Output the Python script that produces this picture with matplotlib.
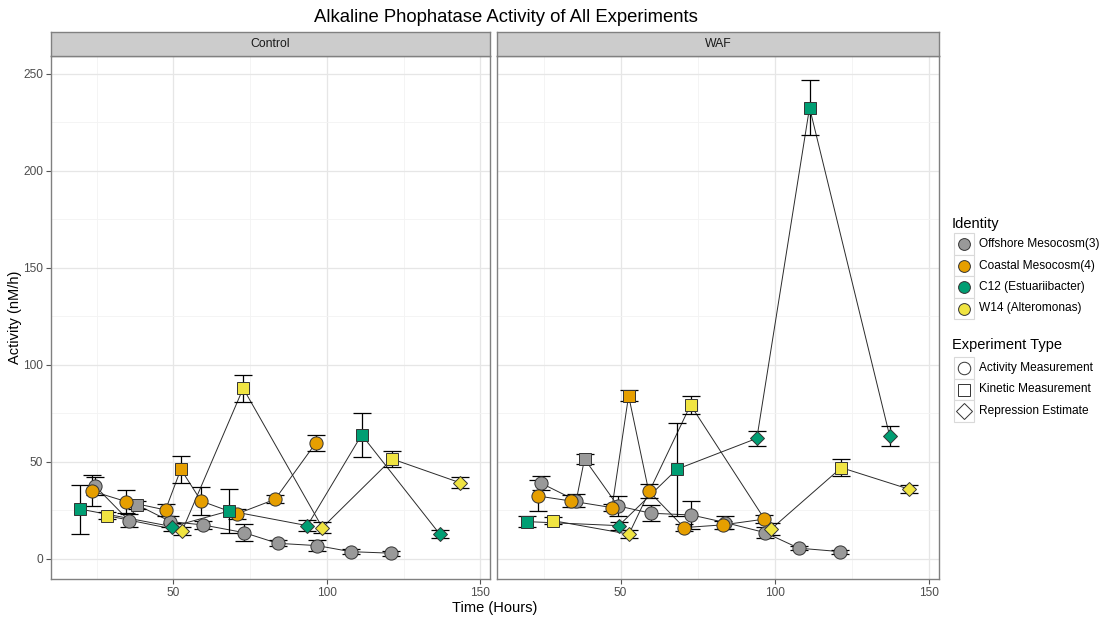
import matplotlib.pyplot as plt
from matplotlib.patches import Rectangle
import numpy as np

plt.rcParams['font.family'] = ['Liberation Sans', 'DejaVu Sans']

# ---- data ----
identities = ["Offshore Mesocosm(3)", "Coastal Mesocosm(4)", "C12 (Estuariibacter)", "W14 (Alteromonas)"]
id_colors = ["#999999", "#E69F00", "#009E73", "#F0E442"]
exp_types = ["Activity Measurement", "Kinetic Measurement", "Repression Estimate"]
exp_markers = ["o", "s", "D"]
exp_sizes = [9.5, 9.0, 7.6]

# Control panel, by identity
ctrl_time = [
    [24.4, 35.5, 38.2, 49.0, 59.5, 73.0, 83.9, 96.9, 107.7, 121.0],
    [23.3, 34.6, 47.4, 52.4, 59.0, 70.6, 83.1, 96.3],
    [19.7, 49.6, 68.2, 93.6, 111.3, 136.7],
    [28.2, 52.8, 72.7, 98.5, 121.2, 143.2],
]
ctrl_activity = [
    [37.5, 19.6, 27.7, 19.1, 17.4, 13.4, 7.9, 6.7, 3.6, 2.8],
    [34.9, 29.4, 25.1, 46.1, 29.7, 23.0, 30.6, 59.5],
    [25.5, 16.5, 24.6, 17.0, 63.8, 12.7],
    [22.2, 14.3, 87.8, 16.0, 51.4, 39.2],
]
ctrl_err = [
    [4.5, 3.3, 2.0, 3.0, 2.0, 4.5, 1.5, 3.0, 1.2, 1.2],
    [8.0, 6.0, 3.0, 7.0, 7.0, 2.5, 2.0, 4.0],
    [12.6, 2.0, 11.5, 3.0, 11.2, 2.0],
    [2.0, 2.0, 7.0, 3.0, 4.3, 3.0],
]
ctrl_type = [
    [0, 0, 1, 0, 0, 0, 0, 0, 0, 0],
    [0, 0, 0, 1, 0, 0, 0, 0],
    [1, 2, 1, 2, 1, 2],
    [1, 2, 1, 2, 1, 2],
]

# WAF panel, by identity
waf_time = [
    [24.2, 35.6, 38.3, 49.1, 59.8, 73.0, 83.9, 96.9, 107.8, 121.3],
    [23.1, 33.9, 47.2, 52.6, 59.1, 70.6, 83.1, 96.4],
    [19.5, 49.4, 68.3, 94.2, 111.3, 137.3],
    [28.0, 52.7, 72.7, 98.8, 121.6, 143.6],
]
waf_activity = [
    [38.9, 29.9, 51.4, 27.2, 23.4, 22.5, 18.6, 13.4, 5.4, 3.6],
    [32.3, 29.7, 26.3, 84.0, 34.9, 16.0, 17.4, 20.3],
    [19.1, 17.0, 46.1, 62.0, 232.5, 63.2],
    [19.6, 12.6, 79.2, 15.2, 46.9, 35.8],
]
waf_err = [
    [3.5, 3.5, 2.5, 5.0, 4.0, 7.0, 3.5, 3.0, 1.2, 1.0],
    [8.0, 3.0, 2.0, 3.0, 3.5, 2.0, 2.0, 2.0],
    [3.0, 2.0, 24.0, 4.0, 14.3, 5.0],
    [2.0, 2.0, 4.7, 3.0, 4.5, 2.0],
]
waf_type = [
    [0, 0, 1, 0, 0, 0, 0, 0, 0, 0],
    [0, 0, 0, 1, 0, 0, 0, 0],
    [1, 2, 1, 2, 1, 2],
    [1, 2, 1, 2, 1, 2],
]

W, H = 1102, 619


def box(l, t, r, b):
    return [l / W, 1 - b / H, (r - l) / W, (b - t) / H]


fig = plt.figure(figsize=(W / 100, H / 100), dpi=100)


def draw_panel(ax, times, acts, errs, types, show_y):
    ax.set_xlim(10, 153.2)
    ax.set_ylim(-10.5, 259.1)
    ax.set_xticks([50, 100, 150])
    ax.set_xticks([25, 75, 125], minor=True)
    ax.set_yticks([0, 50, 100, 150, 200, 250])
    ax.set_yticks([25, 75, 125, 175, 225], minor=True)
    ax.grid(which="major", color="#e6e6e6", lw=0.9)
    ax.grid(which="minor", color="#f3f3f3", lw=0.6)
    ax.set_axisbelow(True)
    for s in ax.spines.values():
        s.set_color("#808080")
        s.set_linewidth(1.0)
    ax.tick_params(which="major", length=3.5, color="#555555", labelsize=8.6,
                   labelcolor="#4d4d4d", pad=2)
    ax.tick_params(which="minor", length=0)
    if not show_y:
        ax.tick_params(axis="y", which="both", left=False, labelleft=False)

    for i in range(len(identities)):
        t = np.array(times[i])
        a = np.array(acts[i])
        e = np.array(errs[i])
        ty = np.array(types[i])
        ax.plot(t, a, color="#2b2b2b", lw=0.7, zorder=2)
        ax.errorbar(t, a, yerr=e, fmt="none", ecolor="black", elinewidth=0.9,
                    capsize=6.5, capthick=0.9, zorder=3)
        for k, m in enumerate(exp_markers):
            sel = ty == k
            if sel.any():
                ax.plot(t[sel], a[sel], ls="none", marker=m, ms=exp_sizes[k],
                        mfc=id_colors[i], mec="#333333", mew=0.7, zorder=4)


def draw_strip(rect, label):
    sax = fig.add_axes(rect)
    sax.set_facecolor("#cccccc")
    sax.set_xticks([])
    sax.set_yticks([])
    for s in sax.spines.values():
        s.set_color("#808080")
        s.set_linewidth(1.0)
    sax.text(0.5, 0.5, label, ha="center", va="center", fontsize=8.8, color="#1a1a1a",
             transform=sax.transAxes)


ax1 = fig.add_axes(box(50.7, 56, 490.3, 579))
draw_panel(ax1, ctrl_time, ctrl_activity, ctrl_err, ctrl_type, True)
ax2 = fig.add_axes(box(497.3, 56, 938.7, 579))
draw_panel(ax2, waf_time, waf_activity, waf_err, waf_type, False)
draw_strip(box(50.7, 31.7, 490.3, 56), "Control")
draw_strip(box(497.3, 31.7, 938.7, 56), "WAF")

fig.text(506 / W, 1 - 17 / H, "Alkaline Phophatase Activity of All Experiments",
         ha="center", va="center", fontsize=13.3)
fig.text(495 / W, 1 - 608 / H, "Time (Hours)", ha="center", va="center", fontsize=10.5)
fig.text(15 / W, 1 - 317.5 / H, "Activity (nM/h)", ha="center", va="center",
         rotation=90, fontsize=10.5)

# ---- legend, drawn in pixel coordinates ----
lax = fig.add_axes([0, 0, 1, 1])
lax.set_xlim(0, W)
lax.set_ylim(H, 0)
lax.axis("off")
key_l, key_w, row_h = 954, 20, 21.5
label_x = 979

lax.text(952, 224, "Identity", ha="left", va="center", fontsize=10.5)
for j, name in enumerate(identities):
    cy = 244 + j * row_h
    lax.add_patch(Rectangle((key_l, cy - row_h / 2), key_w, row_h, fc="white",
                            ec="#d9d9d9", lw=0.8))
    lax.plot(key_l + key_w / 2, cy, marker="o", ms=8.5, mfc=id_colors[j], mec="#333333",
             mew=0.7)
    lax.text(label_x, cy, name, ha="left", va="center", fontsize=8.6)

lax.text(952, 345, "Experiment Type", ha="left", va="center", fontsize=10.5)
for j, name in enumerate(exp_types):
    cy = 368 + j * row_h
    lax.add_patch(Rectangle((key_l, cy - row_h / 2), key_w, row_h, fc="white",
                            ec="#d9d9d9", lw=0.8))
    lax.plot(key_l + key_w / 2, cy, marker=exp_markers[j], ms=[9, 9, 8.5][j],
             mfc="white", mec="#333333", mew=0.7)
    lax.text(label_x, cy, name, ha="left", va="center", fontsize=8.6)

fig.savefig("out.png", dpi=100)
